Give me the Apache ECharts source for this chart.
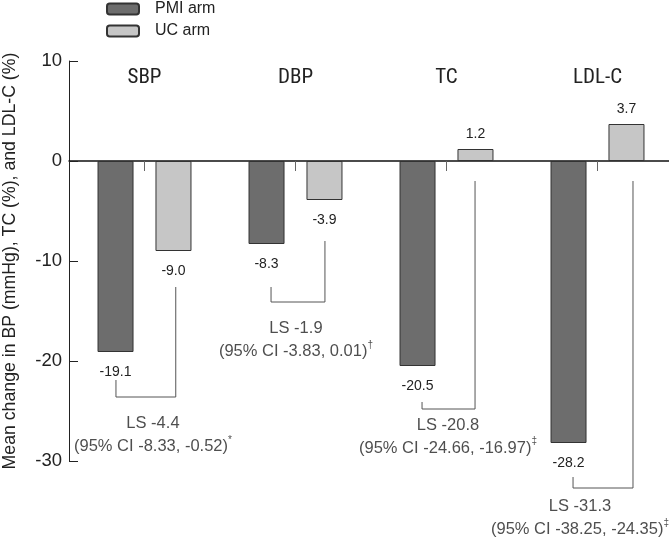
<!DOCTYPE html>
<html><head><meta charset="utf-8">
<script src="https://cdn.jsdelivr.net/npm/echarts@6/dist/echarts.min.js"></script>
<style>html,body{margin:0;padding:0;background:#fff}#c{width:669px;height:539px}</style>
</head><body><div id="c"></div>
<script>
// ---- data ----
const categories = ['SBP', 'DBP', 'TC', 'LDL-C'];
const pmiArm = [-19.1, -8.3, -20.5, -28.2];
const ucArm = [-9.0, -3.9, 1.2, 3.7];
const yTicks = [10, 0, -10, -20, -30];
const lsLabels = ['LS -4.4', 'LS -1.9', 'LS -20.8', 'LS -31.3'];
const ciLabels = ['(95% CI -8.33, -0.52)', '(95% CI -3.83, 0.01)', '(95% CI -24.66, -16.97)', '(95% CI -38.25, -24.35)'];
const ciMarks = ['*', '\u2020', '\u2021', '\u2021'];
const seriesNames = ['PMI arm', 'UC arm'];
const yAxisName = 'Mean change in BP (mmHg), TC (%), and LDL-C (%)';

// ---- annotation layout (bracket geometry in axis units) ----
const bracketX = [[0.311, 0.707], [1.338, 1.695], [2.338, 2.689], [3.338, 3.735]];
const bracketY = [[-21.9, -23.6, -12.6], [-12.6, -14.1, -8.0], [-24.1, -24.8, -2.0], [-31.6, -32.7, -2.0]];
const noteX = [0.556, 1.503, 2.51, 3.384];
const noteY = [-27.4, -17.9, -27.55, -35.7];

const NARROW = "'Liberation Sans Narrow', 'Roboto Condensed', 'DejaVu Sans Condensed', Roboto, sans-serif";
const FONT = "'Liberation Sans', Arial, Helvetica, sans-serif";

function barData(vals) {
  return vals.map(v => ({ value: v, label: { position: v < 0 ? 'bottom' : 'top', distance: v < 0 ? 13 : 8 } }));
}

const barLabel = { show: true, fontSize: 14, color: '#222', fontFamily: FONT, formatter: p => p.value.toFixed(1) };

const series = [
  {
    name: seriesNames[0], type: 'bar', data: barData(pmiArm), barWidth: 36, barGap: '61%',
    itemStyle: { color: '#6d6d6d', borderColor: '#333', borderWidth: 1 },
    label: barLabel
  },
  {
    name: seriesNames[1], type: 'bar', data: barData(ucArm), barWidth: 36, barGap: '61%',
    itemStyle: { color: '#c6c6c6', borderColor: '#333', borderWidth: 1 },
    label: barLabel
  }
];

categories.forEach((c, i) => {
  const [lx, rx] = bracketX[i];
  const [ly, hy, ry] = bracketY[i];
  series.push({
    type: 'line', xAxisIndex: 2, yAxisIndex: 0, symbol: 'none', silent: true, clip: false,
    lineStyle: { color: '#555', width: 1 },
    data: [[lx, ly], [lx, hy], [rx, hy], [rx, ry]]
  });
});

series.push({
  type: 'scatter', xAxisIndex: 2, yAxisIndex: 0, symbolSize: 0, silent: true, clip: false,
  data: noteX.map((x, i) => [x, noteY[i], i]),
  label: {
    show: true, position: 'inside', fontFamily: FONT,
    formatter: p => '{a|' + lsLabels[p.data[2]] + '}\n{a|' + ciLabels[p.data[2]] + '}{s|' + ciMarks[p.data[2]] + '}',
    rich: {
      a: { fontSize: 16.5, lineHeight: 23, color: '#222', fontFamily: FONT },
      s: { fontSize: 10, lineHeight: 23, color: '#222', verticalAlign: 'top', fontFamily: FONT }
    }
  }
});

const chart = echarts.init(document.getElementById('c'), null, { renderer: 'canvas' });
chart.setOption({
  animation: false,
  textStyle: { fontFamily: FONT },
  legend: {
    data: seriesNames, orient: 'vertical', left: 106, top: 1, itemWidth: 32, itemHeight: 11, itemGap: 6,
    padding: 0, textStyle: { fontSize: 16, color: '#222', fontFamily: FONT, padding: [0, 0, 0, 11] }
  },
  grid: { left: 69, top: 61, width: 604, height: 400, containLabel: false, outerBoundsMode: 'none' },
  xAxis: [
    {
      type: 'category', data: categories, gridIndex: 0,
      axisLine: { onZero: true, lineStyle: { color: '#111', width: 1.5 } },
      axisTick: { show: true, alignWithLabel: true, length: 10, lineStyle: { color: '#666' } },
      axisLabel: { show: false }, splitLine: { show: false }
    },
    {
      type: 'category', data: categories, gridIndex: 0, position: 'top',
      axisLine: { show: false, onZero: false }, axisTick: { show: false },
      axisLabel: { show: true, inside: true, margin: 6, fontSize: 21, color: '#222', fontFamily: NARROW }
    },
    { type: 'value', gridIndex: 0, min: 0, max: 4, show: false }
  ],
  yAxis: {
    type: 'value', min: yTicks[yTicks.length - 1], max: yTicks[0], interval: 10,
    axisLine: { show: true, lineStyle: { color: '#222', width: 1 } },
    axisTick: { show: true, inside: true, length: 9, lineStyle: { color: '#222' } },
    axisLabel: { fontSize: 18.5, color: '#222', margin: 7, fontFamily: FONT },
    splitLine: { show: false },
    name: yAxisName, nameLocation: 'middle', nameGap: 50,
    nameTextStyle: { fontSize: 17.7, color: '#222', fontFamily: FONT }
  },
  series: series
});
</script>
</body></html>
